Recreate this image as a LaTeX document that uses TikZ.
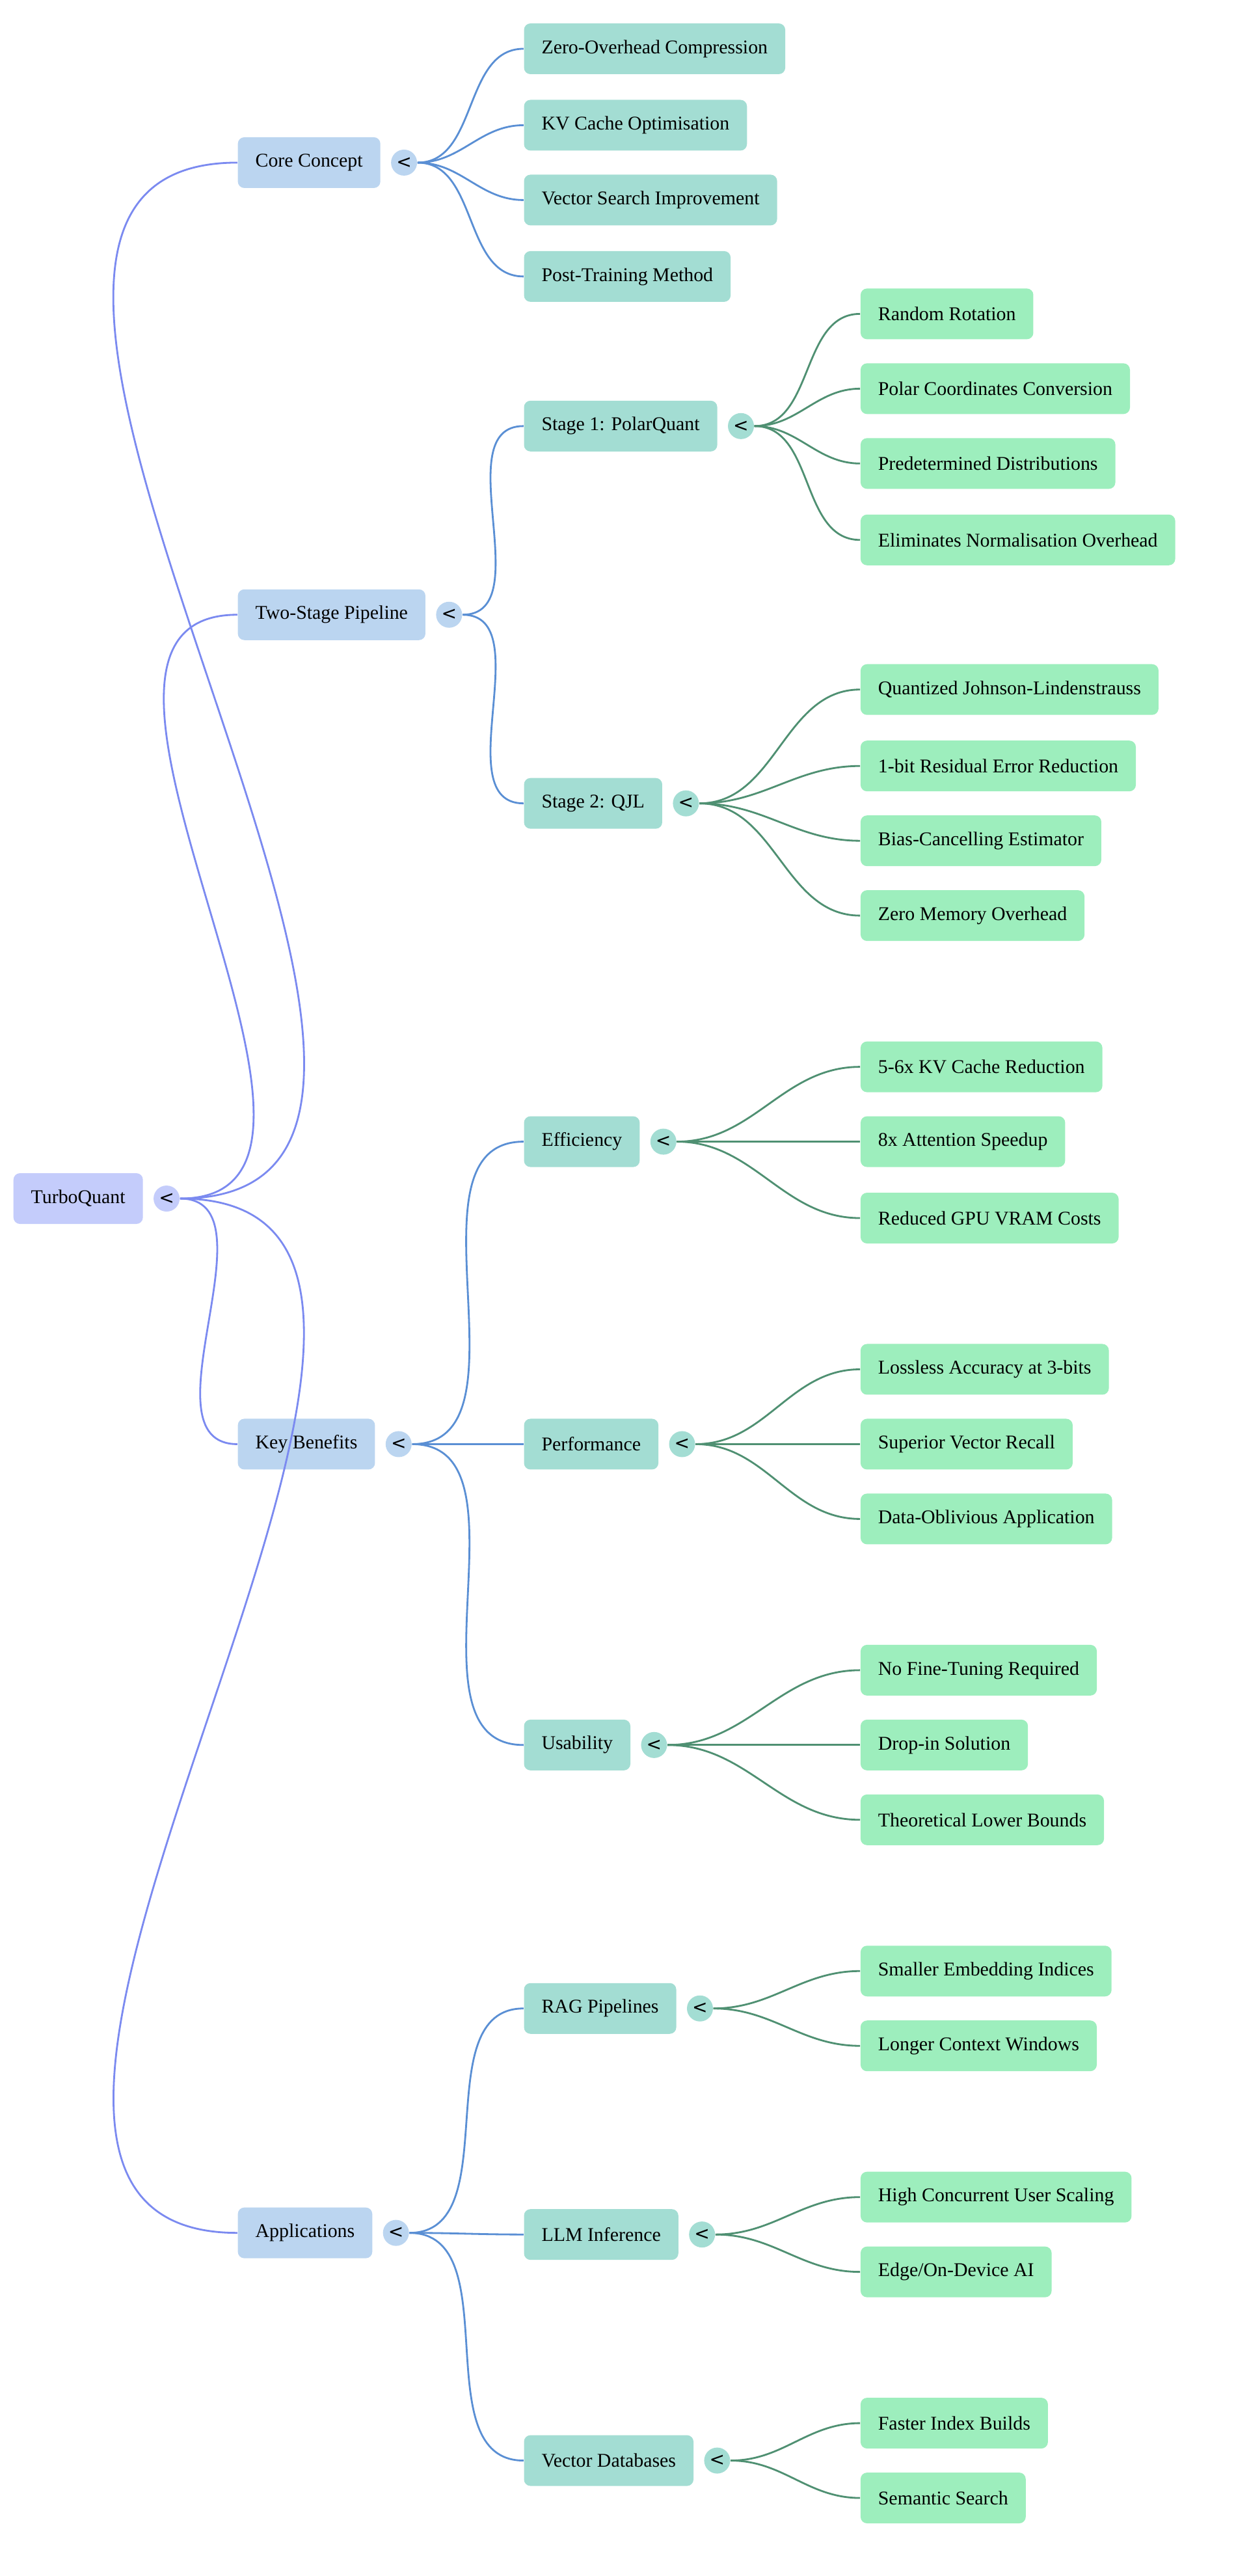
\documentclass[tikz,border=0pt]{standalone}
\usepackage{fontspec}
\setmainfont{Liberation Serif}
\newfontfamily\togfont{DejaVu Sans}
\usetikzlibrary{positioning}
\definecolor{rootfill}{HTML}{C4CCFB}
\definecolor{onefill}{HTML}{BBD5F0}
\definecolor{twofill}{HTML}{A3DDD3}
\definecolor{leaffill}{HTML}{9DEEBD}
\definecolor{rootline}{HTML}{7B8AF0}
\definecolor{oneline}{HTML}{5A8FD4}
\definecolor{twoline}{HTML}{4F9072}
\begin{document}
\begin{tikzpicture}[x=0.025cm, y=-0.025cm,
  box/.style={rounded corners=0.1cm, anchor=west, minimum height=0.78cm, inner xsep=0.27cm,
    font=\fontsize{8.5}{10}\selectfont},
  rootbox/.style={box, fill=rootfill},
  onebox/.style={box, fill=onefill},
  twobox/.style={box, fill=twofill},
  leafbox/.style={box, fill=leaffill},
  tog/.style={circle, inner sep=0, minimum size=0.4cm, fill=#1, font=\togfont\fontsize{8}{8}\selectfont},
  wire/.style={line width=0.8pt, draw=#1},
]
\useasboundingbox (0,0) rectangle (768,1584);

% root
\node[rootbox] (root) at (8,737) {TurboQuant\hspace{0.45cm}};
\node[tog=rootfill, right=0.15cm of root] (roott) {<};

% first level
\node[onebox] (core) at (146,100) {Core Concept\hspace{0.45cm}};
\node[onebox] (pipe) at (146,378) {Two-Stage Pipeline\hspace{0.45cm}};
\node[onebox] (bene) at (146,888) {Key Benefits\hspace{0.45cm}};
\node[onebox] (appl) at (146,1373) {Applications\hspace{0.45cm}};
\foreach \n in {core,pipe,bene,appl}{
  \node[tog=onefill, right=0.15cm of \n] (\n t) {<};
  \draw[wire=rootline] (roott.east) to[out=0,in=180] (\n.west);
}

% core concept
\foreach \y/\t [count=\i] in {30/Zero-Overhead Compression, 77/KV Cache Optimisation,
    123/Vector Search Improvement, 170/Post-Training Method}{
  \node[twobox] (core\i) at (322,\y) {\t\hspace{0.45cm}};
  \draw[wire=oneline] (coret.east) to[out=0,in=180] (core\i.west);
}

% second level
\node[twobox] (polar) at (322,262) {Stage 1: PolarQuant\hspace{0.45cm}};
\node[twobox] (qjl) at (322,494) {Stage 2: QJL\hspace{0.45cm}};
\foreach \n in {polar,qjl}
  \draw[wire=oneline] (pipet.east) to[out=0,in=180] (\n.west);

\node[twobox] (effi) at (322,702) {Efficiency\hspace{0.45cm}};
\node[twobox] (perf) at (322,888) {Performance\hspace{0.45cm}};
\node[twobox] (usab) at (322,1073) {Usability\hspace{0.45cm}};
\foreach \n in {effi,perf,usab}
  \draw[wire=oneline] (benet.east) to[out=0,in=180] (\n.west);

\node[twobox] (rag) at (322,1235) {RAG Pipelines\hspace{0.45cm}};
\node[twobox] (llm) at (322,1374) {LLM Inference\hspace{0.45cm}};
\node[twobox] (vdb) at (322,1513) {Vector Databases\hspace{0.45cm}};
\foreach \n in {rag,llm,vdb}
  \draw[wire=oneline] (applt.east) to[out=0,in=180] (\n.west);

\foreach \n in {polar,qjl,effi,perf,usab,rag,llm,vdb}
  \node[tog=twofill, right=0.15cm of \n] (\n t) {<};

% leaves
\foreach \p/\y/\t [count=\i] in {
    polar/193/Random Rotation, polar/239/Polar Coordinates Conversion,
    polar/285/Predetermined Distributions, polar/332/Eliminates Normalisation Overhead,
    qjl/424/Quantized Johnson-Lindenstrauss, qjl/471/1-bit Residual Error Reduction,
    qjl/517/Bias-Cancelling Estimator, qjl/563/Zero Memory Overhead,
    effi/656/5-6x KV Cache Reduction, effi/702/8x Attention Speedup,
    effi/749/Reduced GPU VRAM Costs,
    perf/842/Lossless Accuracy at 3-bits, perf/888/Superior Vector Recall,
    perf/934/Data-Oblivious Application,
    usab/1027/No Fine-Tuning Required, usab/1073/Drop-in Solution,
    usab/1119/Theoretical Lower Bounds,
    rag/1212/Smaller Embedding Indices, rag/1258/Longer Context Windows,
    llm/1351/High Concurrent User Scaling, llm/1397/{Edge/On-Device AI},
    vdb/1490/Faster Index Builds, vdb/1536/Semantic Search}{
  \node[leafbox] (leaf\i) at (529,\y) {\t\hspace{0.45cm}};
  \draw[wire=twoline] (\p t.east) to[out=0,in=180] (leaf\i.west);
}
\end{tikzpicture}
\end{document}
